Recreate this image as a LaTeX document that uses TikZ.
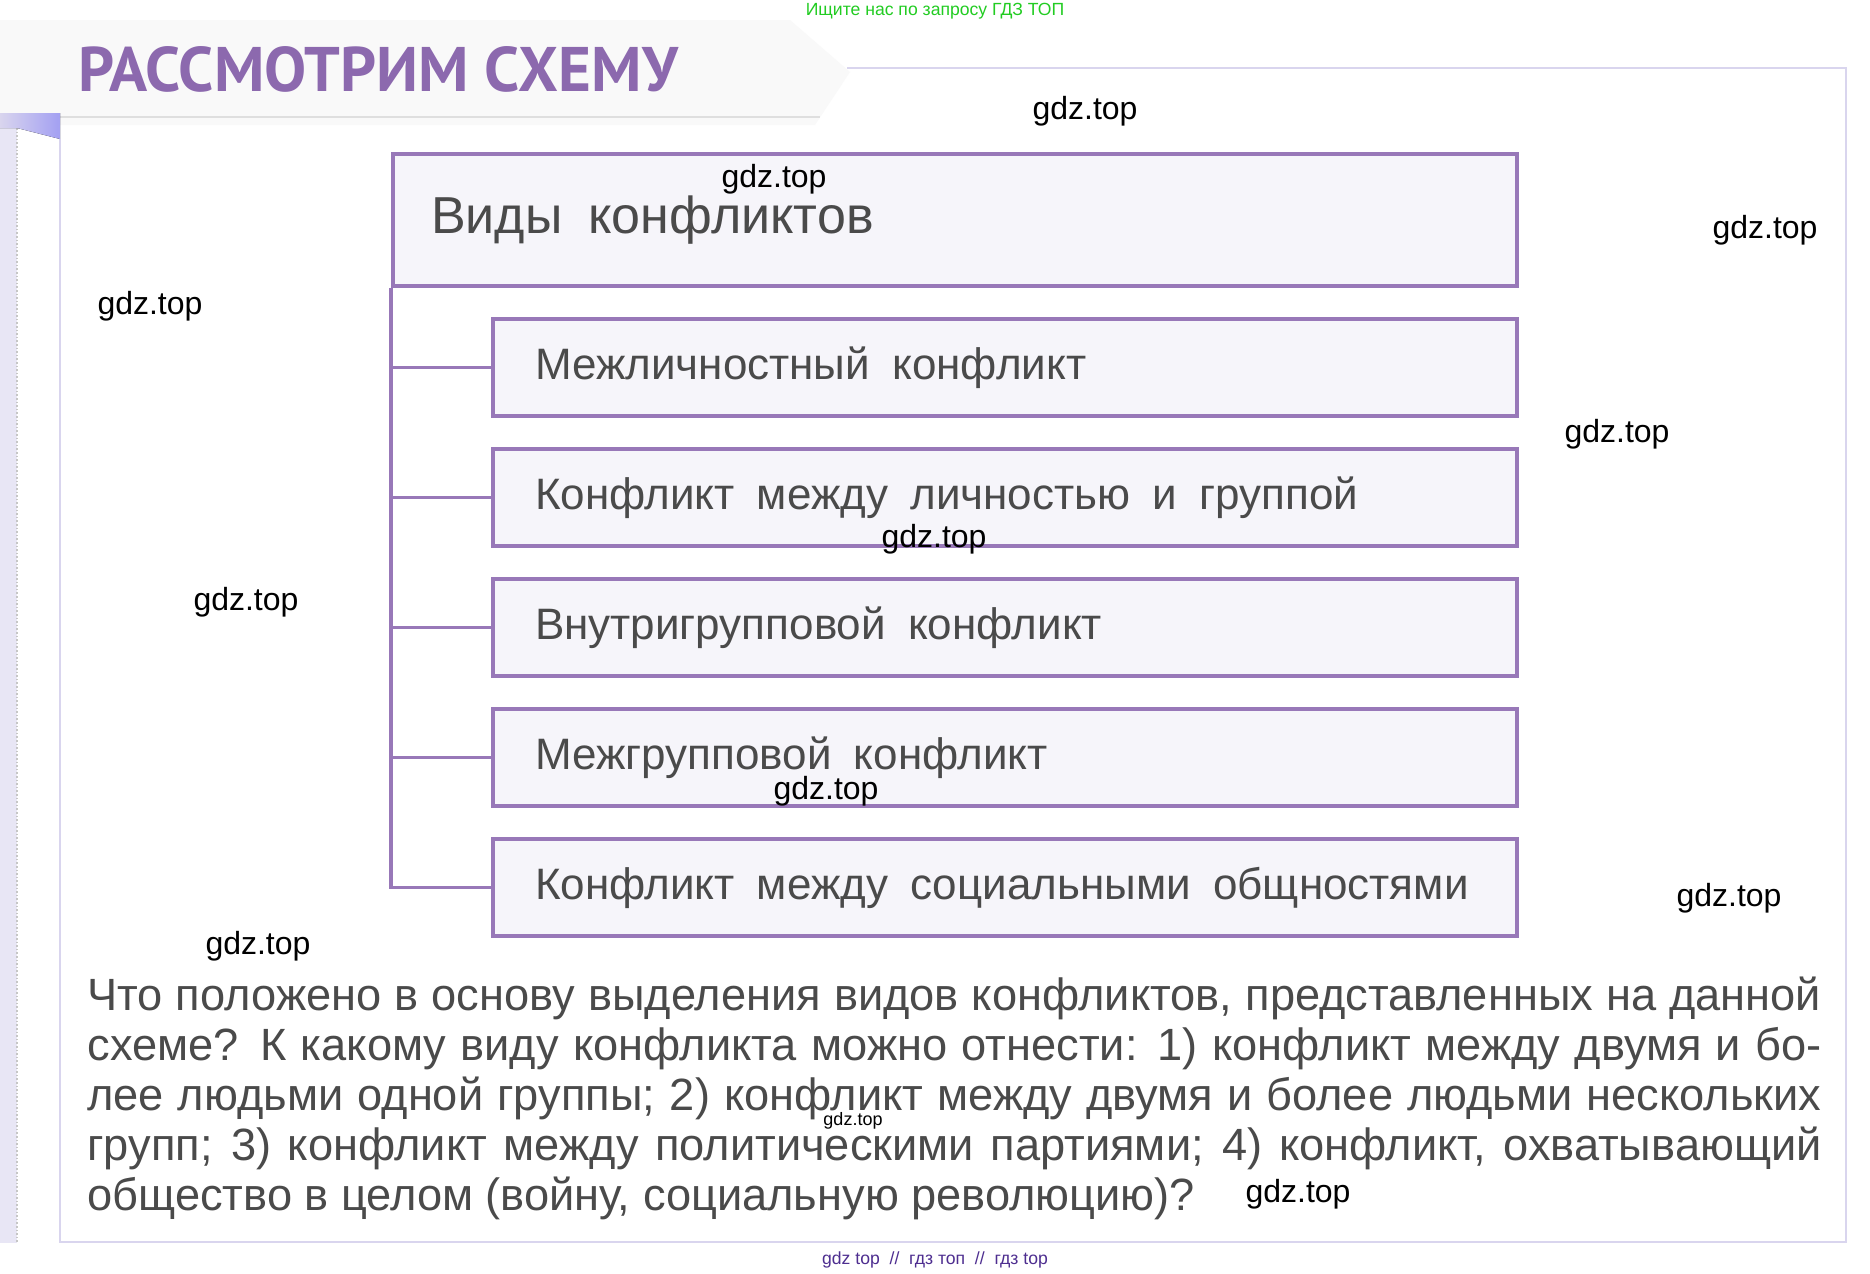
\documentclass[tikz,border=0pt]{standalone}
\usepackage{fontspec}
\setmainfont{Liberation Sans}
\newfontfamily\titlefont{PT Sans}
\definecolor{boxpurple}{HTML}{9878B8}
\definecolor{boxfill}{HTML}{F6F5FA}
\definecolor{txtgray}{HTML}{4A4A4A}
\definecolor{titlepurple}{HTML}{8C69AE}
\definecolor{framelav}{HTML}{D9D5EE}
\definecolor{greenwm}{HTML}{22CC22}
\definecolor{bottomwm}{HTML}{4E2E90}
\newcommand{\gap}{\ \hspace{0.17em}}
\begin{document}
\begin{tikzpicture}[x=0.5pt,y=-0.5pt,
  box/.style={draw=boxpurple, line width=2pt, fill=boxfill, rectangle, anchor=north west,
    inner ysep=0pt, align=left, text=txtgray},
  childbox/.style={box, inner xsep=21pt, minimum width=512pt, minimum height=48.5pt,
    text width=470pt, font=\fontsize{22}{26}\selectfont},
  conn/.style={draw=boxpurple, line width=1.6pt},
  wm/.style={font=\fontsize{16}{18}\selectfont, text=black, inner sep=0pt},
  qline/.style={anchor=base west, inner sep=0pt, text=txtgray, font=\fontsize{22.6}{25}\selectfont}]
\fill[white] (0,0) rectangle (1870,1274);
\useasboundingbox (0,0) rectangle (1870,1274);
% decorations
\fill[gray!5] (0,20) -- (790,20) -- (850,72) -- (815,125) -- (0,125) -- cycle;
\draw[gray!25, line width=0.6pt] (60,117) -- (820,117);
\fill[framelav!60] (0,128) rectangle (17,1243);
\draw[gray!45, line width=0.8pt, densely dotted] (17,128) -- (17,1243);
\fill[left color=framelav, right color=blue!25!framelav] (0,113) -- (60,113) -- (60,139) -- (17,128) -- (0,128) -- cycle;
\draw[framelav, line width=1.2pt] (847,68) -- (1846,68) -- (1846,1242) -- (60,1242) -- (60,139);
% title
\node[anchor=base west, inner sep=0pt, text=titlepurple, font=\titlefont\bfseries\fontsize{31.5}{34}\selectfont] (title) at (78,91) {РАССМОТРИМ СХЕМУ};
% boxes
\node[box, inner xsep=19pt, minimum width=562pt, minimum height=66pt, text width=524pt,
  font=\fontsize{26}{30}\selectfont] (top) at (391,152) {Виды\gap конфликтов};
\node[childbox] (c1) at (491,317) {Межличностный\gap конфликт};
\node[childbox] (c2) at (491,447) {Конфликт\gap между\gap личностью\gap и\gap группой};
\node[childbox] (c3) at (491,577) {Внутригрупповой\gap конфликт};
\node[childbox] (c4) at (491,707) {Межгрупповой\gap конфликт};
\node[childbox] (c5) at (491,837) {Конфликт\gap между\gap социальными\gap общностями};
% connectors
\draw[conn] (top.south west) |- (c5.west);
\foreach \c in {c1,c2,c3,c4}
  \draw[conn] (top.south west |- \c.west) -- (\c.west);
% question
\node[qline] (q1) at (87,1010) {\makebox[867pt][s]{Что положено в основу выделения видов конфликтов, представленных на данной}};
\node[qline] (q2) at (87,1060) {\makebox[867pt][s]{схеме? К какому виду конфликта можно отнести: 1) конфликт между двумя и бо-}};
\node[qline] (q3) at (87,1110) {\makebox[867pt][s]{лее людьми одной группы; 2) конфликт между двумя и более людьми нескольких}};
\node[qline] (q4) at (87,1160) {\makebox[867pt][s]{групп; 3) конфликт между политическими партиями; 4) конфликт, охватывающий}};
\node[qline] (q5) at (87,1210) {общество в целом (войну, социальную революцию)?};
% watermarks
\node[wm] (w1) at (1085,111) {gdz.top};
\node[wm] (w2) at (774,179) {gdz.top};
\node[wm] (w3) at (1765,230) {gdz.top};
\node[wm] (w4) at (150,306) {gdz.top};
\node[wm] (w5) at (1617,434) {gdz.top};
\node[wm] (w6) at (934,539) {gdz.top};
\node[wm] (w7) at (246,602) {gdz.top};
\node[wm] (w8) at (826,791) {gdz.top};
\node[wm] (w9) at (1729,898) {gdz.top};
\node[wm] (w10) at (258,946) {gdz.top};
\node[wm] (w11) at (1298,1194) {gdz.top};
\node[wm, font=\fontsize{9}{10}\selectfont] (w12) at (853,1121) {gdz.top};
\node[inner sep=0pt, text=greenwm, font=\fontsize{8.8}{10}\selectfont] (hdr) at (935,11) {Ищите нас по запросу ГДЗ ТОП};
\node[inner sep=0pt, text=bottomwm, font=\fontsize{8.8}{10}\selectfont] (ftr) at (935,1260) {gdz top~ //~ гдз топ~ //~ гдз top};
\end{tikzpicture}
\end{document}
